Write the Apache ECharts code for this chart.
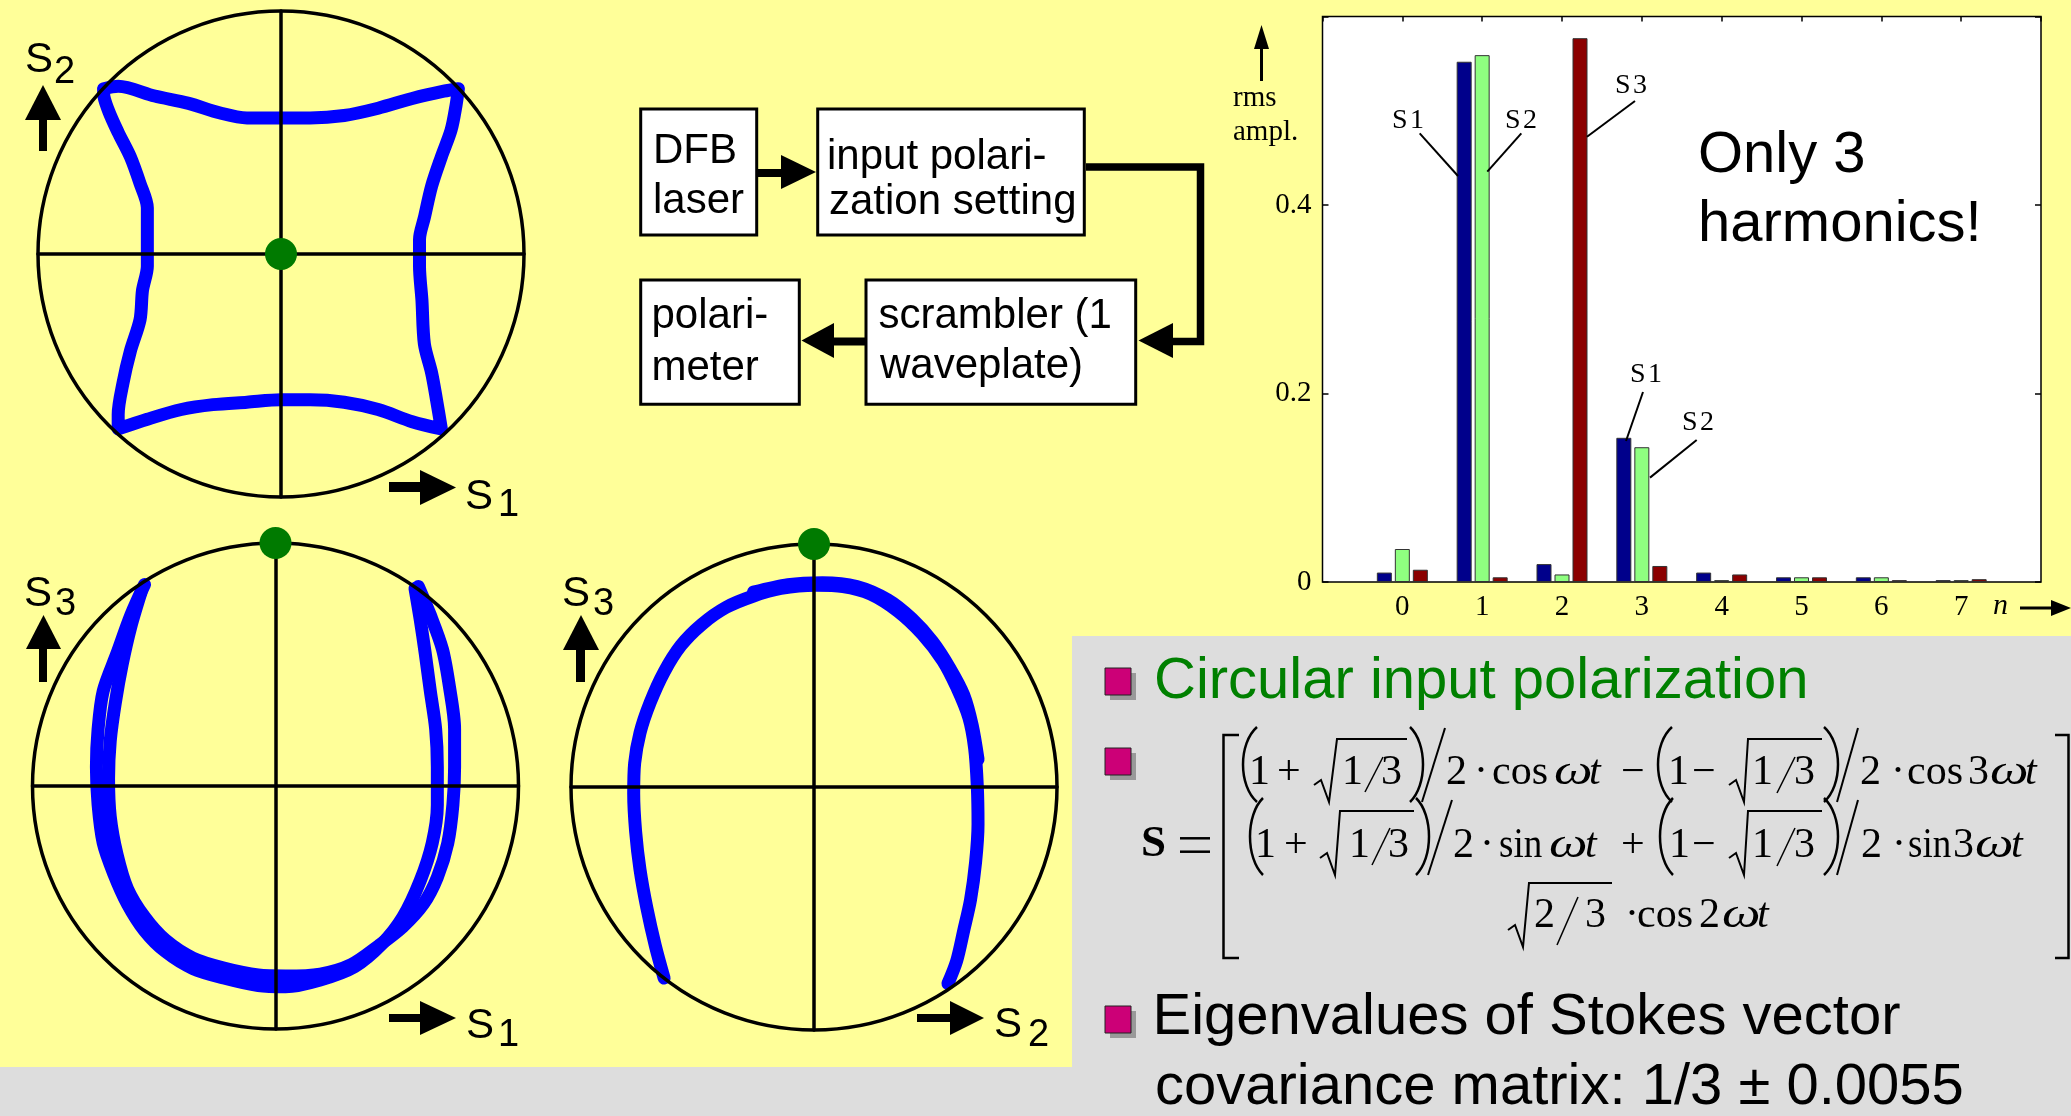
<!DOCTYPE html>
<html><head><meta charset="utf-8">
<script src="https://cdn.jsdelivr.net/npm/echarts@6/dist/echarts.min.js"></script>
<style>html,body{margin:0;padding:0;background:#ffff99;overflow:hidden}#c{width:2071px;height:1116px}</style>
</head><body><div id="c"></div>
<script>
// ---------------- DATA ----------------
const harmonics = [0, 1, 2, 3, 4, 5, 6, 7];
const s1Amp = [0.010, 0.552, 0.019, 0.153, 0.010, 0.005, 0.005, 0.002];
const s2Amp = [0.035, 0.559, 0.008, 0.143, 0.002, 0.005, 0.005, 0.002];
const s3Amp = [0.013, 0.005, 0.577, 0.017, 0.008, 0.005, 0.002, 0.003];
const ampTicks = [0, 0.2, 0.4, 0.6];

// Poincare projections, normalized Stokes units
const s1s2Trace = [[-0.73,0.68],[-0.67,0.69],[-0.52,0.65],[-0.38,0.62],[-0.25,0.58],[-0.14,0.56],[0.00,0.56],[0.12,0.56],[0.26,0.57],[0.40,0.60],[0.54,0.64],[0.67,0.67],[0.73,0.68],[0.72,0.61],[0.70,0.51],[0.66,0.40],[0.62,0.28],[0.59,0.15],[0.57,0.06],[0.57,-0.05],[0.58,-0.19],[0.59,-0.37],[0.62,-0.49],[0.64,-0.60],[0.66,-0.72],[0.54,-0.69],[0.40,-0.64],[0.26,-0.61],[0.12,-0.60],[0.00,-0.60],[-0.14,-0.61],[-0.28,-0.62],[-0.41,-0.64],[-0.55,-0.68],[-0.67,-0.72],[-0.67,-0.66],[-0.65,-0.53],[-0.62,-0.40],[-0.58,-0.27],[-0.57,-0.15],[-0.55,-0.05],[-0.55,0.06],[-0.55,0.19],[-0.58,0.29],[-0.62,0.40],[-0.67,0.50],[-0.71,0.59],[-0.73,0.66],[-0.73,0.68]];
const s1s3TraceA = [[-0.539,0.829],[-0.595,0.704],[-0.652,0.547],[-0.709,0.391],[-0.730,0.235],[-0.737,0.078],[-0.730,-0.078],[-0.709,-0.235],[-0.666,-0.360],[-0.609,-0.486],[-0.539,-0.595],[-0.453,-0.681],[-0.340,-0.751],[-0.213,-0.790],[-0.071,-0.821],[0.042,-0.826],[0.184,-0.798],[0.326,-0.743],[0.439,-0.649],[0.524,-0.540],[0.595,-0.391],[0.645,-0.235],[0.666,-0.078],[0.666,0.078],[0.659,0.235],[0.637,0.391],[0.616,0.547],[0.595,0.688],[0.574,0.813]];
const s1s3TraceB = [[0.588,0.821],[0.637,0.704],[0.687,0.563],[0.716,0.407],[0.737,0.235],[0.737,0.078],[0.730,-0.078],[0.709,-0.235],[0.666,-0.376],[0.609,-0.485],[0.524,-0.579],[0.425,-0.657],[0.312,-0.735],[0.184,-0.774],[0.042,-0.782],[-0.071,-0.778],[-0.213,-0.749],[-0.340,-0.708],[-0.453,-0.634],[-0.539,-0.539],[-0.609,-0.423],[-0.652,-0.282],[-0.680,-0.126],[-0.687,0.031],[-0.680,0.187],[-0.659,0.344],[-0.631,0.500],[-0.595,0.657],[-0.553,0.798]];
const s2s3TraceMain = [[-0.617,-0.786],[-0.653,-0.653],[-0.688,-0.497],[-0.716,-0.340],[-0.734,-0.184],[-0.742,-0.028],[-0.738,0.098],[-0.716,0.223],[-0.674,0.348],[-0.617,0.473],[-0.547,0.583],[-0.462,0.669],[-0.362,0.739],[-0.249,0.786],[-0.136,0.817],[0.006,0.830],[0.119,0.825],[0.233,0.794],[0.346,0.723],[0.445,0.630],[0.530,0.520],[0.587,0.411],[0.637,0.286],[0.661,0.160],[0.672,0.004],[0.675,-0.152],[0.665,-0.309],[0.644,-0.465],[0.616,-0.591],[0.587,-0.716],[0.551,-0.809]];
const s2s3TraceUpper = [[-0.249,0.802],[-0.107,0.833],[0.035,0.841],[0.176,0.825],[0.304,0.770],[0.403,0.692],[0.488,0.598],[0.559,0.489],[0.616,0.379],[0.651,0.254],[0.675,0.114]];
const startPointS1S2 = [0, 0];
const startPointS1S3 = [0, 1];
const startPointS2S3 = [0, 1];

// ---------------- LAYOUT ----------------
const TIMES = '"Liberation Serif","Times New Roman",serif';
const ARIAL = '"Liberation Sans",Arial,sans-serif';
const panels = [
  {left: 38, top: 11, size: 486, traces: [s1s2Trace], dot: startPointS1S2},
  {left: 32.5, top: 543, size: 486, traces: [s1s3TraceA, s1s3TraceB], dot: startPointS1S3},
  {left: 571, top: 544, size: 486, traces: [s2s3TraceMain, s2s3TraceUpper], dot: startPointS2S3}
];
const grids = [], xAxes = [], yAxes = [], series = [];
panels.forEach((p, i) => {
  grids.push({left: p.left, top: p.top, width: p.size, height: p.size, outerBoundsMode: 'none', containLabel: false});
  const ax = {gridIndex: i, type: 'value', min: -1, max: 1, z: 3,
    axisLine: {show: true, onZero: true, lineStyle: {color: '#000', width: 3.5}},
    axisTick: {show: false}, axisLabel: {show: false}, splitLine: {show: false}};
  xAxes.push(Object.assign({}, ax));
  yAxes.push(Object.assign({}, ax));
  series.push({type: 'custom', xAxisIndex: i, yAxisIndex: i, data: [[0, 0]], z: 4, clip: false, silent: true,
    renderItem: (params, api) => {
      const c = api.coord([0, 0]); const s = api.size([1, 1]);
      return {type: 'circle', shape: {cx: c[0], cy: c[1], r: s[0]}, style: {fill: 'none', stroke: '#000', lineWidth: 3.5}};
    }});
  p.traces.forEach(t => series.push({type: 'line', xAxisIndex: i, yAxisIndex: i, data: t, symbol: 'none', smooth: 0.3,
    clip: false, silent: true, z: 2, lineStyle: {color: '#0000ff', width: 13, cap: 'round', join: 'round'}}));
  series.push({type: 'scatter', xAxisIndex: i, yAxisIndex: i, data: [p.dot], symbolSize: 32, clip: false, silent: true,
    z: 10, itemStyle: {color: '#007a00', opacity: 1}});
});

// bar chart grid (index 3)
grids.push({left: 1322.5, top: 16.5, width: 718.5, height: 565.5, show: true, backgroundColor: '#ffffff',
  borderColor: '#000', borderWidth: 1.5, outerBoundsMode: 'none', containLabel: false});
const tickStyle = {color: '#000', width: 1.5};
xAxes.push({gridIndex: 3, type: 'value', min: -1, max: 8, interval: 1, position: 'bottom',
  axisLine: {show: false, onZero: false}, axisTick: {show: false}, splitLine: {show: false},
  axisLabel: {margin: 11, fontFamily: TIMES, fontSize: 29, color: '#000',
    formatter: v => (harmonics.indexOf(v) >= 0 ? String(v) : '')}});
xAxes.push({gridIndex: 3, type: 'value', min: -1, max: 8, interval: 1, position: 'top',
  axisLine: {show: false, onZero: false}, splitLine: {show: false}, axisLabel: {show: false},
  axisTick: {show: true, inside: true, length: 5, lineStyle: tickStyle}});
yAxes.push({gridIndex: 3, type: 'value', min: ampTicks[0], max: ampTicks[ampTicks.length - 1], interval: 0.2, position: 'left',
  axisLine: {show: false, onZero: false}, splitLine: {show: false},
  axisTick: {show: true, inside: true, length: 6, lineStyle: tickStyle},
  axisLabel: {margin: 11, fontFamily: TIMES, fontSize: 29, color: '#000',
    formatter: v => (v === 0 ? '0' : (v > 0.55 ? '' : v.toFixed(1)))}});
yAxes.push({gridIndex: 3, type: 'value', min: ampTicks[0], max: ampTicks[ampTicks.length - 1], interval: 0.2, position: 'right',
  axisLine: {show: false, onZero: false}, splitLine: {show: false}, axisLabel: {show: false},
  axisTick: {show: true, inside: true, length: 6, lineStyle: tickStyle}});
const barColors = ['#00008b', '#8fff80', '#8b0000'];
[s1Amp, s2Amp, s3Amp].forEach((arr, k) => series.push({type: 'bar', name: 'S' + (k + 1), xAxisIndex: 3, yAxisIndex: 3,
  data: harmonics.map((n, j) => [n, arr[j]]), barWidth: 15, barGap: '20%', silent: true, z: 2,
  itemStyle: {color: barColors[k], borderColor: '#333', borderWidth: 1}}));

// ---------------- ANNOTATIONS (graphic) ----------------
const G = [];
function T(text, x, base, size, o) {
  o = o || {};
  G.push({type: 'text', x: x, y: base - size * 0.34, z: 100, silent: true, scaleX: o.sx || 1,
    style: {text: text, fontSize: size, fontFamily: o.fam || ARIAL, fontStyle: o.italic ? 'italic' : 'normal',
      fontWeight: o.bold ? 'bold' : 'normal', fill: o.color || '#000', align: o.align || 'left', verticalAlign: 'middle'}});
}
function R(x, y, w, h, fill, o) {
  o = o || {};
  G.push({type: 'rect', z: o.z !== undefined ? o.z : 50, silent: true, shape: {x: x, y: y, width: w, height: h},
    style: {fill: fill, stroke: o.stroke || null, lineWidth: o.lw || 0}});
}
function PL(points, lw) {
  G.push({type: 'polyline', z: 100, silent: true, shape: {points: points},
    style: {stroke: '#000', lineWidth: lw, fill: 'none', lineJoin: 'miter'}});
}
function PG(points, fill) {
  G.push({type: 'polygon', z: 100, silent: true, shape: {points: points}, style: {fill: fill || '#000'}});
}
function paren(xl, xr, yt, yb, open) {
  const h = yb - yt;
  const out = open ? xl : xr, inn = open ? xr : xl;
  const cpx = out - (inn - out) / 3;
  G.push({type: 'bezierCurve', z: 100, silent: true,
    shape: {x1: inn, y1: yt, x2: inn, y2: yb, cpx1: cpx, cpy1: yt + h * 0.22, cpx2: cpx, cpy2: yb - h * 0.22},
    style: {stroke: '#000', lineWidth: 2.5, fill: 'none'}});
}

// backgrounds
R(1072, 636, 999, 480, '#dddddd', {z: -10});
R(0, 1067, 2071, 49, '#dddddd', {z: -10});

// Poincare axis labels and arrows
function upArrow(xl, xr, tip, base, sl, sr, bottom) {
  PG([[xl, base], [xr, base], [(xl + xr) / 2, tip]]);
  R(sl, base - 1, sr - sl, bottom - base + 1, '#000', {z: 100});
}
function rightArrow(s0, s1, yt, yb, tt, tb, tipX) {
  R(s0, yt, s1 - s0 + 1, yb - yt, '#000', {z: 100});
  PG([[s1, tt], [s1, tb], [tipX, (tt + tb) / 2]]);
}
// panel A
T('S', 25, 75, 42); T('2', 54, 85, 38);
upArrow(25, 61, 85, 120, 39, 47, 151);
rightArrow(389, 420, 482, 492, 470, 505, 456);
T('S', 465, 512, 42); T('1', 498, 518, 38);
// panel B
T('S', 24, 609, 42); T('3', 55, 617, 38);
upArrow(26, 61, 615, 649, 39, 47, 682);
rightArrow(389, 420, 1014, 1022, 1001, 1035, 456);
T('S', 466, 1041, 42); T('1', 498, 1048, 38);
// panel C
T('S', 562, 609, 42); T('3', 593, 617, 38);
upArrow(563, 599, 615, 650, 576, 585, 682);
rightArrow(917, 950, 1014, 1022, 1001, 1035, 984);
T('S', 994, 1040, 42); T('2', 1028, 1048, 38);

// block diagram
R(640.7, 109, 116, 126, '#fff', {stroke: '#000', lw: 3});
R(817.7, 109, 266.6, 126, '#fff', {stroke: '#000', lw: 3});
R(640.7, 280, 158.6, 124.3, '#fff', {stroke: '#000', lw: 3});
R(866, 280, 269.7, 124.3, '#fff', {stroke: '#000', lw: 3});
PL([[758, 173], [783, 173]], 8); PG([[781, 155], [781, 189], [816, 172]]);
PL([[1086, 167], [1200.5, 167], [1200.5, 341.5], [1170, 341.5]], 7.5); PG([[1173, 323], [1173, 358], [1138.5, 340.5]]);
PL([[865, 341.5], [832, 341.5]], 8); PG([[834, 323], [834, 358], [801.5, 340.5]]);
T('DFB', 653, 166, 42); T('laser', 653, 216, 42);
T('input polari-', 827, 172, 42); T('zation setting', 829, 217, 42);
T('polari-', 651.5, 331, 42); T('meter', 651.5, 383, 42);
T('scrambler (1', 878.5, 331, 42); T('waveplate)', 880, 381, 42);

// bar chart annotations
PG([[1254, 49], [1269, 49], [1261.5, 25]]); PL([[1261.5, 47], [1261.5, 81]], 3);
T('rms', 1233, 108, 29, {fam: TIMES}); T('ampl.', 1233, 142, 29, {fam: TIMES});
T('n', 1993, 616, 30, {fam: TIMES, italic: true});
PL([[2020, 608], [2053, 608]], 3); PG([[2051, 600], [2051, 616], [2071, 608]]);
T('S\u200a1', 1392, 130, 28, {fam: TIMES}); PL([[1419.7, 133.3], [1458, 176]], 2);
T('S\u200a2', 1505, 130, 28, {fam: TIMES}); PL([[1521.3, 133.3], [1487.3, 171.7]], 2);
T('S\u200a3', 1615, 95, 28, {fam: TIMES}); PL([[1635, 101], [1587, 136.7]], 2);
T('S\u200a1', 1630, 384, 28, {fam: TIMES}); PL([[1643, 392], [1626, 441]], 2);
T('S\u200a2', 1682, 432, 28, {fam: TIMES}); PL([[1696.7, 440], [1650, 477.6]], 2);
T('Only 3', 1698, 175.5, 58); T('harmonics!', 1698, 245, 58);

// bullets
function bullet(y) {
  R(1110, y + 5, 26, 27, '#999999', {z: 90});
  R(1105, y, 26, 27, '#cc0077', {z: 91, stroke: '#222', lw: 1});
}
bullet(668); bullet(748); bullet(1006);
T('Circular input polarization', 1154, 701.7, 58, {color: '#008000'});
T('Eigenvalues of Stokes vector', 1152.5, 1038, 58);
T('covariance matrix: 1/3 \u00b1 0.0055', 1155, 1108, 58);

// formula
const F = 42;
function ft(t, x, b, o) { T(t, x, b, F, Object.assign({fam: TIMES}, o || {})); }
function om(x, b) { ft('\u03c9', x, b, {italic: true, sx: 1.3}); }
T('S', 1141, 860, 45, {fam: TIMES, bold: true});
PL([[1180, 838.3], [1210, 838.3]], 2.5); PL([[1180, 851.7], [1210, 851.7]], 2.5);
PL([[1239, 735], [1223.5, 735], [1223.5, 958], [1239, 958]], 2.5);
PL([[2055, 735], [2068.5, 735], [2068.5, 958], [2055, 958]], 2.5);
// row 1
paren(1243, 1257, 727, 802, true); paren(1410, 1423, 727, 802, false);
paren(1658, 1672, 727, 802, true); paren(1824, 1838, 727, 802, false);
PL([[1445, 728], [1422, 802]], 2); PL([[1858, 728], [1837, 802]], 2);
PL([[1314, 785], [1321, 780], [1329, 802], [1337, 739], [1407, 739]], 2);
PL([[1729, 785], [1736, 780], [1744, 802], [1748, 739], [1822, 739]], 2);
PL([[1365, 792], [1383, 757]], 1.5); PL([[1777, 793], [1795, 757]], 1.5);
ft('1', 1249, 787); ft('+', 1277, 787); ft('1', 1342, 787); ft('3', 1381, 787);
ft('2', 1446, 787); ft('\u00b7', 1474, 787); ft('cos', 1492, 787);
om(1554, 787); ft('t', 1589, 787, {italic: true});
ft('\u2212', 1621, 787); ft('1', 1668, 787); ft('\u2212', 1692, 787);
ft('1', 1752, 787); ft('3', 1794, 787); ft('2', 1860, 787); ft('\u00b7', 1891, 787);
ft('cos', 1907, 787); ft('3', 1968, 787); om(1990, 787); ft('t', 2025, 787, {italic: true});
// row 2
paren(1250, 1263, 798, 875, true); paren(1416, 1429, 798, 875, false);
paren(1660, 1673, 798, 875, true); paren(1824, 1838, 798, 875, false);
PL([[1452, 800], [1428, 875]], 2); PL([[1858, 800], [1837, 875]], 2);
PL([[1320, 858], [1327, 853], [1335, 875], [1340, 811], [1414, 811]], 2);
PL([[1729, 858], [1736, 853], [1744, 875], [1748, 811], [1822, 811]], 2);
PL([[1372, 865], [1390, 828]], 1.5); PL([[1777, 866], [1795, 828]], 1.5);
ft('1', 1255, 860); ft('+', 1284, 860); ft('1', 1349, 860); ft('3', 1388, 860);
ft('2', 1453, 860); ft('\u00b7', 1480, 860); ft('sin', 1499, 860, {sx: 0.88});
om(1549, 860); ft('t', 1585, 860, {italic: true});
ft('+', 1621, 860); ft('1', 1669, 860); ft('\u2212', 1692, 860);
ft('1', 1752, 860); ft('3', 1794, 860); ft('2', 1861, 860); ft('\u00b7', 1892, 860);
ft('sin', 1908, 860, {sx: 0.88}); ft('3', 1953, 860); om(1975, 860); ft('t', 2011, 860, {italic: true});
// row 3
PL([[1508, 930], [1515, 925], [1523, 947], [1529, 883], [1612, 883]], 2);
PL([[1557, 945], [1578, 897]], 1.5);
ft('2', 1534, 930); ft('3', 1585, 930); ft('\u00b7', 1625, 930); ft('cos', 1637, 930);
ft('2', 1699, 930); om(1722, 930); ft('t', 1757, 930, {italic: true});

const chart = echarts.init(document.getElementById('c'), null, {renderer: 'canvas', width: 2071, height: 1116});
chart.setOption({
  animation: false,
  backgroundColor: '#ffff99',
  grid: grids, xAxis: xAxes, yAxis: yAxes, series: series,
  graphic: {elements: G}
});
</script>
</body></html>
